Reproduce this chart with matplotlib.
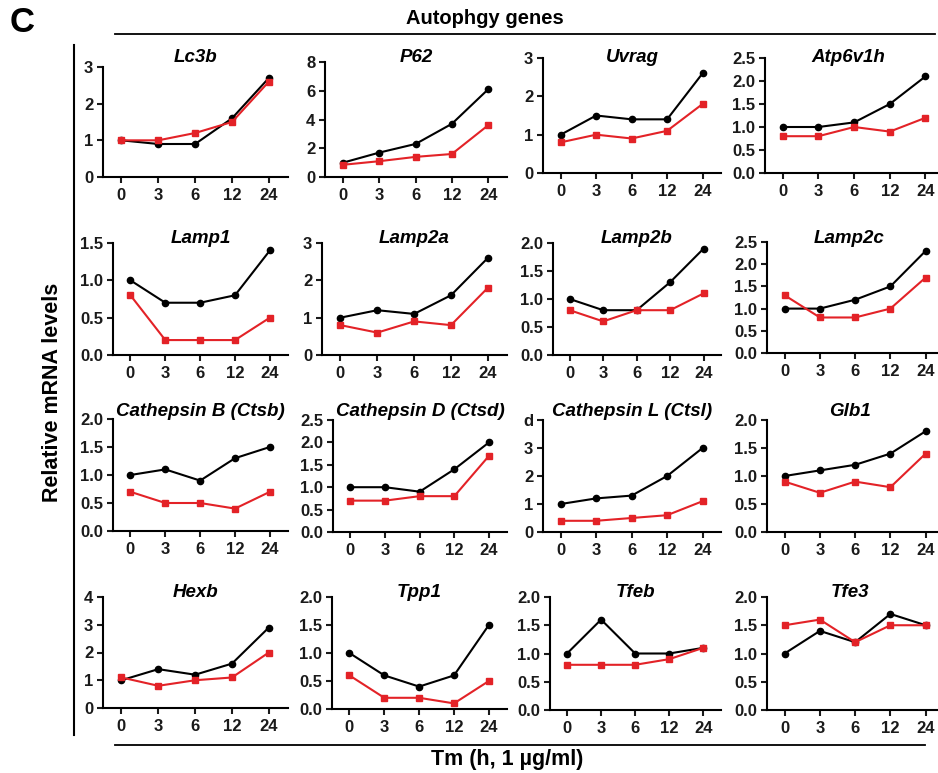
import numpy as np
import matplotlib.pyplot as plt
from matplotlib.lines import Line2D

plt.rcParams['font.family'] = ['Liberation Sans', 'DejaVu Sans']
plt.rcParams['font.weight'] = 'bold'

time_labels = ['0', '3', '6', '12', '24']

genes = ['Lc3b', 'P62', 'Uvrag', 'Atp6v1h',
         'Lamp1', 'Lamp2a', 'Lamp2b', 'Lamp2c',
         'Cathepsin B (Ctsb)', 'Cathepsin D (Ctsd)', 'Cathepsin L (Ctsl)', 'Glb1',
         'Hexb', 'Tpp1', 'Tfeb', 'Tfe3']

black_vals = [
    [1.0, 0.9, 0.9, 1.6, 2.7],
    [1.0, 1.7, 2.3, 3.7, 6.1],
    [1.0, 1.5, 1.4, 1.4, 2.6],
    [1.0, 1.0, 1.1, 1.5, 2.1],
    [1.0, 0.7, 0.7, 0.8, 1.4],
    [1.0, 1.2, 1.1, 1.6, 2.6],
    [1.0, 0.8, 0.8, 1.3, 1.9],
    [1.0, 1.0, 1.2, 1.5, 2.3],
    [1.0, 1.1, 0.9, 1.3, 1.5],
    [1.0, 1.0, 0.9, 1.4, 2.0],
    [1.0, 1.2, 1.3, 2.0, 3.0],
    [1.0, 1.1, 1.2, 1.4, 1.8],
    [1.0, 1.4, 1.2, 1.6, 2.9],
    [1.0, 0.6, 0.4, 0.6, 1.5],
    [1.0, 1.6, 1.0, 1.0, 1.1],
    [1.0, 1.4, 1.2, 1.7, 1.5],
]

red_vals = [
    [1.0, 1.0, 1.2, 1.5, 2.6],
    [0.85, 1.1, 1.4, 1.6, 3.6],
    [0.8, 1.0, 0.9, 1.1, 1.8],
    [0.8, 0.8, 1.0, 0.9, 1.2],
    [0.8, 0.2, 0.2, 0.2, 0.5],
    [0.8, 0.6, 0.9, 0.8, 1.8],
    [0.8, 0.6, 0.8, 0.8, 1.1],
    [1.3, 0.8, 0.8, 1.0, 1.7],
    [0.7, 0.5, 0.5, 0.4, 0.7],
    [0.7, 0.7, 0.8, 0.8, 1.7],
    [0.4, 0.4, 0.5, 0.6, 1.1],
    [0.9, 0.7, 0.9, 0.8, 1.4],
    [1.1, 0.8, 1.0, 1.1, 2.0],
    [0.6, 0.2, 0.2, 0.1, 0.5],
    [0.8, 0.8, 0.8, 0.9, 1.1],
    [1.5, 1.6, 1.2, 1.5, 1.5],
]

yticks = [
    [0, 1, 2, 3], [0, 2, 4, 6, 8], [0, 1, 2, 3], [0, 0.5, 1.0, 1.5, 2.0, 2.5],
    [0, 0.5, 1.0, 1.5], [0, 1, 2, 3], [0, 0.5, 1.0, 1.5, 2.0], [0, 0.5, 1.0, 1.5, 2.0, 2.5],
    [0, 0.5, 1.0, 1.5, 2.0], [0, 0.5, 1.0, 1.5, 2.0, 2.5], [0, 1, 2, 3, 4], [0, 0.5, 1.0, 1.5, 2.0],
    [0, 1, 2, 3, 4], [0, 0.5, 1.0, 1.5, 2.0], [0, 0.5, 1.0, 1.5, 2.0], [0, 0.5, 1.0, 1.5, 2.0],
]
ytick_labels = [
    ['0', '1', '2', '3'], ['0', '2', '4', '6', '8'], ['0', '1', '2', '3'],
    ['0.0', '0.5', '1.0', '1.5', '2.0', '2.5'],
    ['0.0', '0.5', '1.0', '1.5'], ['0', '1', '2', '3'], ['0.0', '0.5', '1.0', '1.5', '2.0'],
    ['0.0', '0.5', '1.0', '1.5', '2.0', '2.5'],
    ['0.0', '0.5', '1.0', '1.5', '2.0'], ['0.0', '0.5', '1.0', '1.5', '2.0', '2.5'],
    ['0', '1', '2', '3', 'd'], ['0.0', '0.5', '1.0', '1.5', '2.0'],
    ['0', '1', '2', '3', '4'], ['0.0', '0.5', '1.0', '1.5', '2.0'],
    ['0.0', '0.5', '1.0', '1.5', '2.0'], ['0.0', '0.5', '1.0', '1.5', '2.0'],
]

W, H = 938, 773
RED = '#e32227'

fig = plt.figure(figsize=(W / 100, H / 100), dpi=100)

# panel frames in pixels: y-axis x, right end, top, bottom
ax_left = [103, 325, 543, 765,
           113, 322, 553, 767,
           113, 333, 543, 767,
           103, 332, 550, 767]
col_right = [288, 507, 721, 944]
ax_top = [67, 62, 58, 58,
          243, 243, 243, 242,
          419, 420, 420, 420,
          597, 597, 597, 597]
ax_bottom = [177, 177, 173, 173,
             355, 355, 355, 353,
             531, 532, 532, 532,
             708, 709, 710, 710]
title_base = [62, 243, 416, 597]

x = np.arange(len(time_labels))
for i, gene in enumerate(genes):
    r, c = divmod(i, 4)
    l, rt = ax_left[i], col_right[c]
    ax = fig.add_axes([l / W, 1 - ax_bottom[i] / H, (rt - l) / W,
                       (ax_bottom[i] - ax_top[i]) / H])
    ax.patch.set_visible(False)
    ax.plot(x, black_vals[i], color='black', marker='o', ms=4.5, lw=1.5, zorder=3,
            clip_on=False)
    ax.plot(x, red_vals[i], color=RED, marker='s', ms=4.5, lw=1.5, zorder=4,
            clip_on=False)
    ax.set_xlim(-0.5, 4.52)
    ax.set_ylim(yticks[i][0], yticks[i][-1])
    ax.set_xticks(x)
    ax.set_xticklabels(time_labels)
    ax.set_yticks(yticks[i])
    ax.set_yticklabels(ytick_labels[i])
    for s in ['top', 'right']:
        ax.spines[s].set_visible(False)
    for s in ['left', 'bottom']:
        ax.spines[s].set_linewidth(1.5)
    ax.tick_params(width=1.5, length=4, labelsize=12, pad=3, colors='#1a1a1a')
    ax.tick_params(axis='x', pad=4)
    for lab in ax.get_xticklabels() + ax.get_yticklabels():
        lab.set_fontweight('bold')
    # titles sit on a shared baseline per row, centred over the visible spine
    fig.text((l + min(rt, 932)) / 2 / W, 1 - title_base[r] / H, gene, fontsize=13.5,
             fontweight='bold', style='italic', ha='center', va='baseline')

# frame text and lines
fig.text(10 / W, 1 - 23 / H, 'C', fontsize=25, fontweight='bold', va='center')
fig.text(485 / W, 1 - 19 / H, 'Autophgy genes', fontsize=14.5, fontweight='bold',
         ha='center', va='center')
fig.add_artist(Line2D([115 / W, 935 / W], [1 - 34 / H, 1 - 34 / H], color='black', lw=1.3))
fig.add_artist(Line2D([74 / W, 74 / W], [1 - 45 / H, 1 - 735 / H], color='black', lw=1.5))
fig.add_artist(Line2D([115 / W, 925 / W], [1 - 745 / H, 1 - 745 / H], color='black', lw=1.3))
fig.text(52 / W, 1 - 392 / H, 'Relative mRNA levels', fontsize=15.5, fontweight='bold',
         rotation=90, ha='center', va='center')
fig.text(507 / W, 1 - 759 / H, 'Tm (h, 1 µg/ml)', fontsize=15.5, fontweight='bold',
         ha='center', va='center')

fig.savefig('out.png', dpi=100)
